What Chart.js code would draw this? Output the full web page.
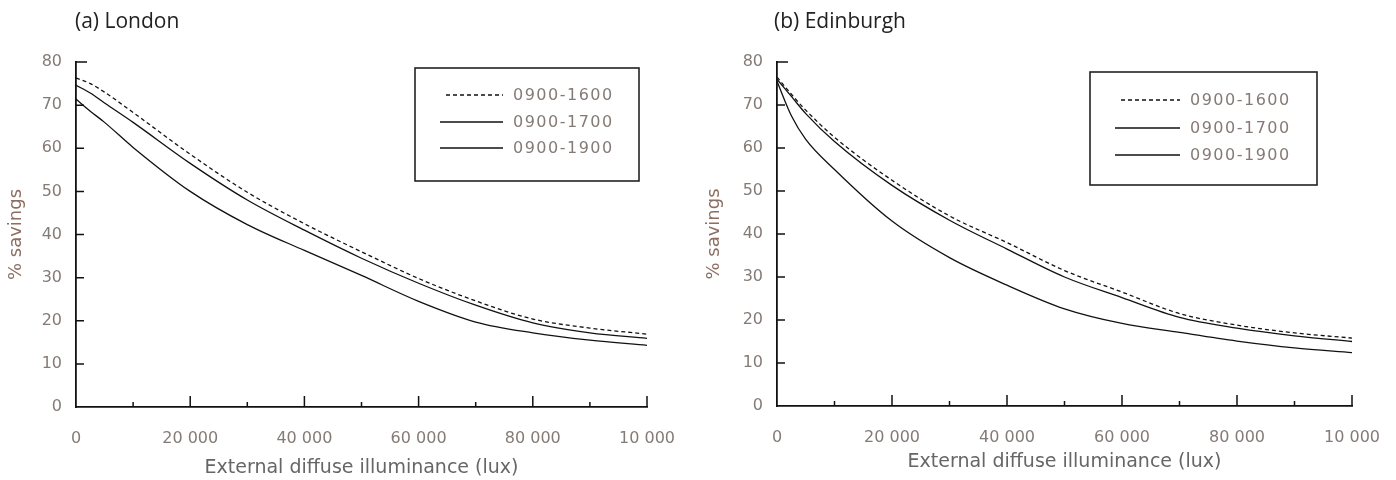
<!DOCTYPE html>
<html>
<head>
<meta charset="utf-8">
<script src="https://cdn.jsdelivr.net/npm/chart.js@4/dist/chart.umd.min.js"></script>
<style>
  body { margin: 0; background: #fff; width: 1396px; height: 480px; overflow: hidden; position: relative; }
  canvas { position: absolute; top: 0; }
</style>
</head>
<body>
<canvas id="london" width="698" height="480" style="left:0"></canvas>
<canvas id="edinburgh" width="698" height="480" style="left:698px"></canvas>
<script>
const illuminance = [0, 2500, 5000, 10000, 20000, 30000, 40000, 50000, 60000, 70000, 80000, 90000, 100000];
const seriesLabels = ['0900-1600', '0900-1700', '0900-1900'];

const london1600 = [76.3, 75.0, 73.0, 68.3, 58.6, 49.8, 42.5, 36.0, 29.8, 24.6, 20.4, 18.3, 16.9];
const london1700 = [74.6, 72.8, 70.5, 66.0, 56.5, 48.0, 41.0, 34.5, 28.7, 23.6, 19.5, 17.2, 15.9];
const london1900 = [71.4, 68.6, 66.0, 60.2, 50.0, 42.3, 36.3, 30.5, 24.5, 19.7, 17.2, 15.5, 14.3];

const edin1600 = [76.5, 72.5, 68.8, 62.5, 52.5, 44.2, 38.0, 31.5, 26.5, 21.5, 18.8, 17.0, 15.8];
const edin1700 = [76.0, 72.0, 68.0, 61.5, 51.3, 43.2, 36.5, 30.0, 25.2, 20.6, 18.1, 16.3, 15.0];
const edin1900 = [75.5, 67.5, 62.0, 55.0, 43.0, 34.5, 28.1, 22.6, 19.2, 17.1, 15.1, 13.5, 12.4];

// x tick labels as printed (last one really is "10 000" in the original)
const xTickValues = [0, 20000, 40000, 60000, 80000, 100000];
const xTickLabels = ['0', '20 000', '40 000', '60 000', '80 000', '10 000'];
const yTickValues = [0, 10, 20, 30, 40, 50, 60, 70, 80];

const lineDash = [[4, 3], [], []];
const tickColor = '#857b76';

// inward tick marks on both axes
const insideTicks = {
  id: 'insideTicks',
  afterDraw(chart) {
    const ctx = chart.ctx, x = chart.scales.x, y = chart.scales.y;
    ctx.save();
    ctx.strokeStyle = '#111';
    ctx.lineWidth = 1.5;
    ctx.beginPath();
    for (let v = 10000; v <= 100000; v += 10000) {
      const px = x.getPixelForValue(v);
      const len = v % 20000 === 0 ? 11 : 5;
      ctx.moveTo(px, y.bottom);
      ctx.lineTo(px, y.bottom - len);
    }
    yTickValues.forEach(v => {
      if (v === 0) return;
      const py = y.getPixelForValue(v);
      ctx.moveTo(x.left, py);
      ctx.lineTo(x.left + (v === 80 ? 11 : 8), py);
    });
    ctx.stroke();
    ctx.restore();
  }
};

// boxed legend placed inside the plot
const boxLegend = {
  id: 'boxLegend',
  afterDraw(chart, args, o) {
    const ctx = chart.ctx;
    ctx.save();
    ctx.strokeStyle = '#222';
    ctx.lineWidth = 1.6;
    ctx.strokeRect(o.x, o.y, o.w, o.h);
    ctx.font = '16px "DejaVu Sans"';
    ctx.letterSpacing = '1.5px';
    ctx.fillStyle = tickColor;
    ctx.textBaseline = 'middle';
    chart.data.datasets.forEach((ds, i) => {
      const ry = o.rows[i];
      ctx.beginPath();
      ctx.setLineDash(ds.borderDash || []);
      ctx.lineWidth = 1.6;
      ctx.strokeStyle = '#111';
      ctx.moveTo(o.lineX0 + (i === 0 ? 6 : 0), ry);
      ctx.lineTo(o.lineX1, ry);
      ctx.stroke();
      ctx.setLineDash([]);
      ctx.fillText(ds.label, o.textX, ry + 1);
    });
    ctx.restore();
  }
};

// panel caption, e.g. "(a) London"
const panelTitle = {
  id: 'panelTitle',
  afterDraw(chart, args, o) {
    const ctx = chart.ctx;
    ctx.save();
    ctx.font = '21px "Open Sans"';
    ctx.fillStyle = '#222';
    ctx.textBaseline = 'middle';
    ctx.fillText(o.text, o.x, o.y);
    ctx.restore();
  }
};

function makeChart(id, s1600, s1700, s1900, cfg) {
  const series = [s1600, s1700, s1900];
  const datasets = series.map((vals, i) => ({
    label: seriesLabels[i],
    data: illuminance.map((x, j) => ({ x: x, y: vals[j] })),
    borderColor: '#111',
    borderWidth: 1.3,
    borderDash: lineDash[i],
    pointRadius: 0,
    cubicInterpolationMode: 'monotone',
    fill: false
  }));

  return new Chart(document.getElementById(id), {
    type: 'line',
    data: { datasets: datasets },
    options: {
      responsive: false,
      animation: false,
      devicePixelRatio: 1,
      layout: { padding: { top: cfg.top, right: cfg.right, left: 0, bottom: 0 } },
      scales: {
        x: {
          type: 'linear',
          min: 0, max: 100000,
          afterBuildTicks: s => { s.ticks = xTickValues.map(v => ({ value: v })); },
          afterFit: s => { s.height = cfg.xHeight; },
          grid: { display: false },
          border: { display: true, color: '#111', width: 1.8 },
          ticks: {
            padding: 14,
            maxRotation: 0,
            color: tickColor,
            font: { family: 'DejaVu Sans', size: 16 },
            callback: v => xTickLabels[xTickValues.indexOf(v)]
          },
          title: {
            display: true,
            text: 'External diffuse illuminance (lux)',
            color: '#666',
            font: { family: 'DejaVu Sans', size: 19 },
            padding: { top: 0, bottom: cfg.titleBottom }
          }
        },
        y: {
          min: 0, max: 80,
          afterBuildTicks: s => { s.ticks = yTickValues.map(v => ({ value: v })); },
          afterFit: s => { s.width = cfg.yWidth; },
          grid: { display: false },
          border: { display: true, color: '#111', width: 1.8 },
          ticks: {
            padding: 6,
            color: tickColor,
            font: { family: 'DejaVu Sans', size: 16 }
          },
          title: {
            display: true,
            text: '% savings',
            color: '#8c6e62',
            font: { family: 'DejaVu Sans', size: 18 },
            padding: { top: 6, bottom: 0 }
          }
        }
      },
      plugins: {
        legend: { display: false },
        tooltip: { enabled: false },
        boxLegend: cfg.legend,
        panelTitle: cfg.title
      }
    },
    plugins: [insideTicks, boxLegend, panelTitle]
  });
}

makeChart('london', london1600, london1700, london1900, {
  top: 62, right: 51, xHeight: 73, yWidth: 76, titleBottom: 1,
  legend: { x: 415, y: 68, w: 224, h: 113, rows: [95, 122, 148], lineX0: 440, lineX1: 503, textX: 513 },
  title: { text: '(a) London', x: 75, y: 22 }
});

makeChart('edinburgh', edin1600, edin1700, edin1900, {
  top: 62, right: 44, xHeight: 74, yWidth: 79, titleBottom: 7,
  legend: { x: 392, y: 72, w: 227, h: 113, rows: [100, 128, 155], lineX0: 417, lineX1: 482, textX: 492 },
  title: { text: '(b) Edinburgh', x: 76, y: 22 }
});
</script>
</body>
</html>
